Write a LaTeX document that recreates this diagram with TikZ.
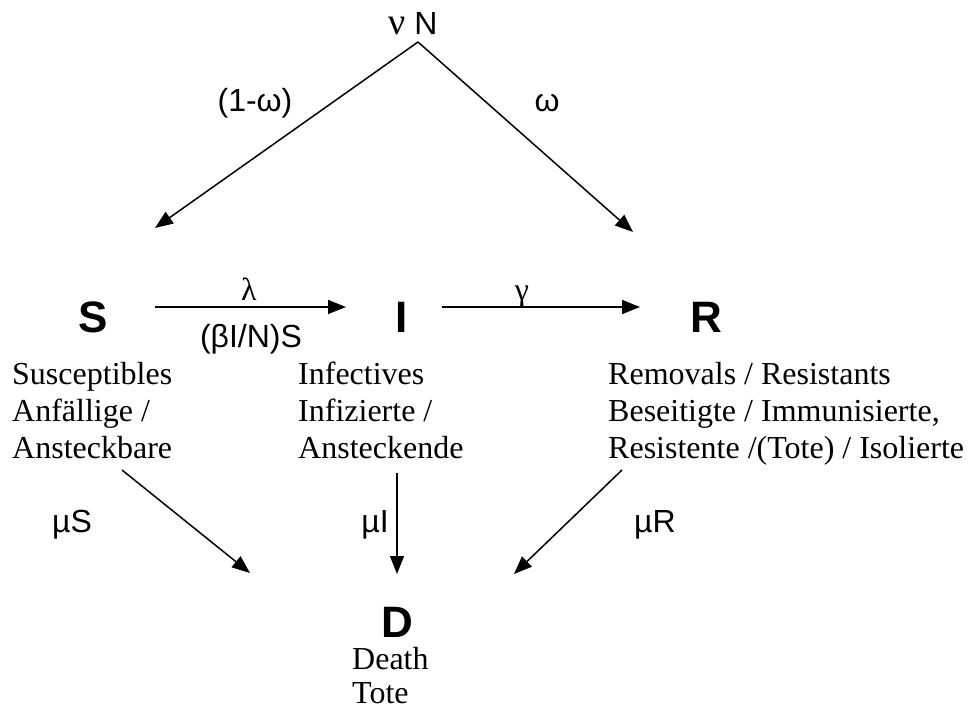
\documentclass[tikz,border=0pt]{standalone}
\usepackage{fontspec}
\setmainfont{Liberation Serif}
\newfontfamily\lsans{Liberation Sans}
\usetikzlibrary{arrows.meta}
\begin{document}
\begin{tikzpicture}[x=1pt,y=-1pt,
  big/.style={font=\lsans\bfseries\fontsize{44}{50}\selectfont, inner sep=0pt},
  lab/.style={font=\lsans\fontsize{32}{37}\selectfont, inner sep=0pt},
  glab/.style={font=\fontsize{32}{37}\selectfont, inner sep=0pt},
  desc/.style={font=\fontsize{32}{37}\selectfont, align=left, inner sep=0pt},
  flow/.style={line width=1.5pt, -{Triangle[length=18pt,width=14pt]}}]
\useasboundingbox (0,0) rectangle (972,711);
% compartments
\node[lab, anchor=base] (N) at (413,35) {{\fontspec{Liberation Serif}\fontsize{38}{40}\selectfont ν} N};
\node[big, anchor=base] (S) at (93,333) {S};
\node[big, anchor=base] (I) at (402,333) {I};
\node[big, anchor=base] (R) at (706,333) {R};
\node[big, anchor=base] (D) at (397,637) {D};
% descriptions
\node[desc, anchor=north west] (Sd) at (12,362) {Susceptibles\\Anfällige /\\Ansteckbare};
\node[desc, anchor=north west] (Id) at (298,362) {Infectives\\Infizierte /\\Ansteckende};
\node[desc, anchor=north west] (Rd) at (608,362) {Removals / Resistants\\Beseitigte / Immunisierte,\\Resistente /(Tote) / Isolierte};
\node[glab, anchor=base west] (Dd) at (352,669) {Death};
\node[glab, anchor=base west] (Dt) at (352,703) {Tote};
% connector end points
\coordinate (apex) at (418,42);
\coordinate (toS) at (155,228);
\coordinate (toR) at (633,232);
\coordinate (siA) at (155,307);
\coordinate (siB) at (346,307);
\coordinate (irA) at (442,307);
\coordinate (irB) at (640,307);
\coordinate (sdA) at (122,470);
\coordinate (sdB) at (250,573);
\coordinate (idA) at (397,473);
\coordinate (idB) at (397,574);
\coordinate (rdA) at (622,470);
\coordinate (rdB) at (514,574);
% connectors
\draw[flow] (apex) -- (toS);
\draw[flow] (apex) -- (toR);
\draw[flow] (siA) -- (siB);
\draw[flow] (irA) -- (irB);
\draw[flow] (sdA) -- (sdB);
\draw[flow] (idA) -- (idB);
\draw[flow] (rdA) -- (rdB);
% labels
\node[lab] (lw) at (255,103) {(1-ω)};
\node[lab] (rw) at (547,103) {ω};
\node[glab, anchor=base] (lam) at (249,301) {λ};
\node[lab, anchor=base] (inc) at (251,348) {(βI/N)S};
\node[glab, anchor=base] (gam) at (522,301) {γ};
\node[lab] (muS) at (72,525) {µS};
\node[lab] (muI) at (375,525) {µI};
\node[lab] (muR) at (655,525) {µR};
\end{tikzpicture}
\end{document}
